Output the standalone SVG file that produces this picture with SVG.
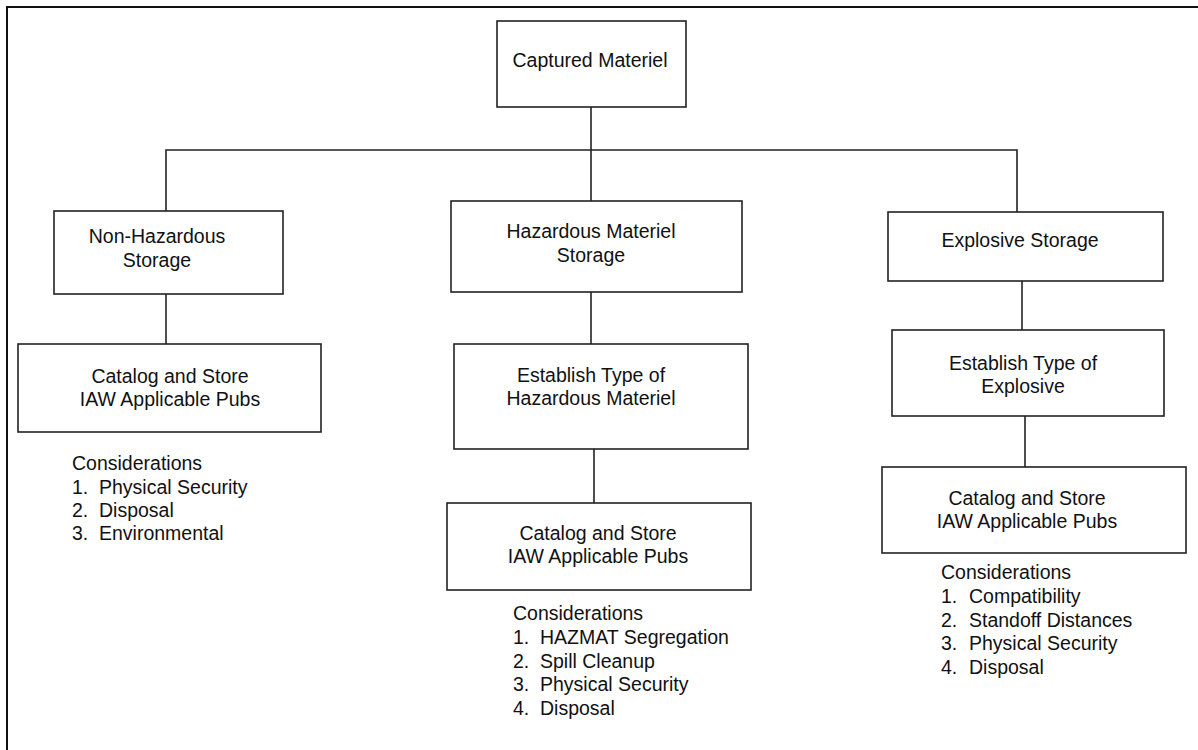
<svg xmlns="http://www.w3.org/2000/svg" width="1198" height="750" viewBox="0 0 1198 750">
<style>
.box{fill:#fff;stroke:#222;stroke-width:1.6}
.ln{stroke:#222;stroke-width:1.6;fill:none}
text{font-family:"Liberation Sans",Arial,sans-serif;font-size:19.5px;fill:#111}
.c{text-anchor:middle}
</style>
<rect x="7" y="7" width="1200" height="760" fill="#fff" stroke="#111" stroke-width="2"/>
<g id="connectors">
<line class="ln" x1="591" y1="107" x2="591" y2="201"/>
<polyline class="ln" points="166,211 166,150 1017,150 1017,212"/>
<line class="ln" x1="166" y1="294" x2="166" y2="344"/>
<line class="ln" x1="591" y1="292" x2="591" y2="344"/>
<line class="ln" x1="594" y1="449" x2="594" y2="503"/>
<line class="ln" x1="1022" y1="281" x2="1022" y2="330"/>
<line class="ln" x1="1025" y1="416" x2="1025" y2="467"/>
</g>
<g id="captured">
<rect class="box" x="497" y="21" width="189" height="86"/>
<text class="c" x="590" y="67">Captured Materiel</text>
</g>
<g id="nonhaz">
<rect class="box" x="54" y="211" width="229" height="83"/>
<text class="c" x="157" y="243">Non-Hazardous</text>
<text class="c" x="157" y="267">Storage</text>
</g>
<g id="haz">
<rect class="box" x="451" y="201" width="291" height="91"/>
<text class="c" x="591" y="238">Hazardous Materiel</text>
<text class="c" x="591" y="262">Storage</text>
</g>
<g id="explosive">
<rect class="box" x="888" y="212" width="275" height="69"/>
<text class="c" x="1020" y="247">Explosive Storage</text>
</g>
<g id="catalog1">
<rect class="box" x="18" y="344" width="303" height="88"/>
<text class="c" x="170" y="383">Catalog and Store</text>
<text class="c" x="170" y="406">IAW Applicable Pubs</text>
</g>
<g id="establishHaz">
<rect class="box" x="454" y="344" width="294" height="105"/>
<text class="c" x="591" y="382">Establish Type of</text>
<text class="c" x="591" y="405">Hazardous Materiel</text>
</g>
<g id="catalog2">
<rect class="box" x="447" y="503" width="304" height="87"/>
<text class="c" x="598" y="540">Catalog and Store</text>
<text class="c" x="598" y="563">IAW Applicable Pubs</text>
</g>
<g id="establishExp">
<rect class="box" x="892" y="330" width="272" height="86"/>
<text class="c" x="1023" y="370">Establish Type of</text>
<text class="c" x="1023" y="393">Explosive</text>
</g>
<g id="catalog3">
<rect class="box" x="882" y="467" width="304" height="86"/>
<text class="c" x="1027" y="505">Catalog and Store</text>
<text class="c" x="1027" y="528">IAW Applicable Pubs</text>
</g>
<g id="considerations1">
<text x="72" y="470">Considerations</text>
<text x="72" y="494">1.<tspan x="99">Physical Security</tspan></text>
<text x="72" y="517">2.<tspan x="99">Disposal</tspan></text>
<text x="72" y="540">3.<tspan x="99">Environmental</tspan></text>
</g>
<g id="considerations2">
<text x="513" y="620">Considerations</text>
<text x="513" y="644">1.<tspan x="540">HAZMAT Segregation</tspan></text>
<text x="513" y="668">2.<tspan x="540">Spill Cleanup</tspan></text>
<text x="513" y="691">3.<tspan x="540">Physical Security</tspan></text>
<text x="513" y="715">4.<tspan x="540">Disposal</tspan></text>
</g>
<g id="considerations3">
<text x="941" y="579">Considerations</text>
<text x="941" y="603">1.<tspan x="969">Compatibility</tspan></text>
<text x="941" y="627">2.<tspan x="969">Standoff Distances</tspan></text>
<text x="941" y="650">3.<tspan x="969">Physical Security</tspan></text>
<text x="941" y="674">4.<tspan x="969">Disposal</tspan></text>
</g>
</svg>
